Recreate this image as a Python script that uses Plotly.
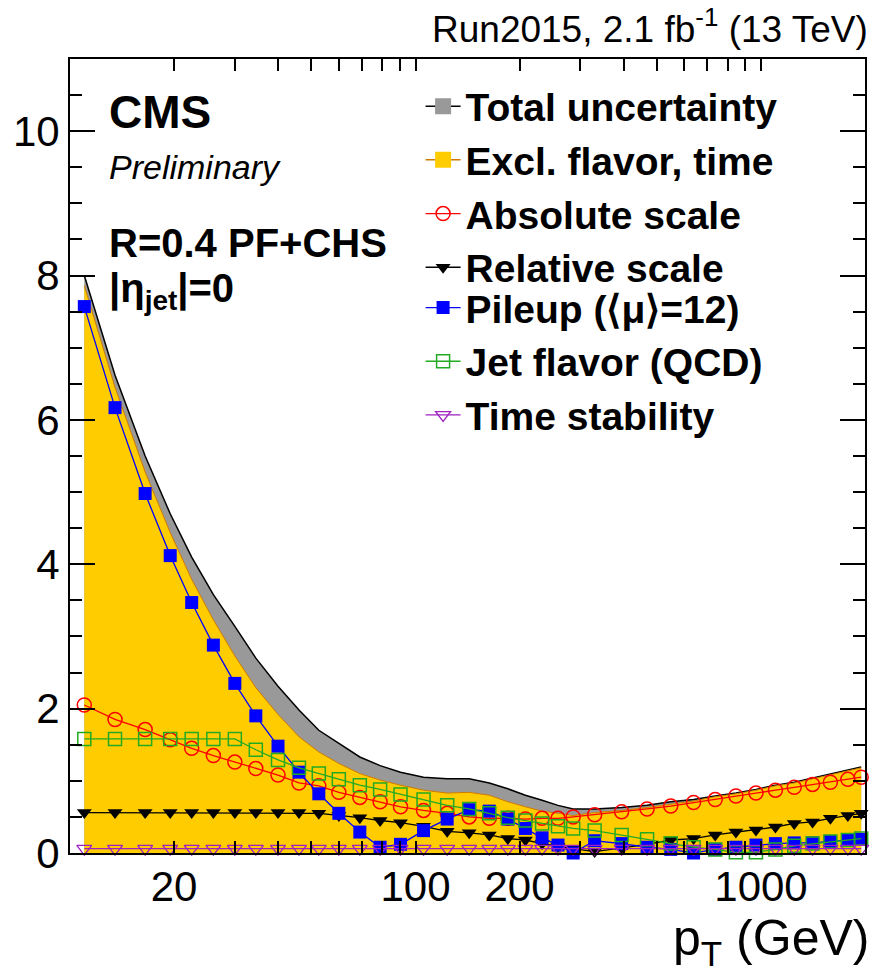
import math
import plotly.graph_objects as go

# ---------------- data ----------------
pt = [11, 13.5, 16.5, 19.5, 22.5, 26, 30, 34.5, 40, 46, 52.5, 60, 69, 79, 90.5,
      105.5, 123.5, 143, 163.5, 185, 208, 232.5, 258.5, 286, 330, 395, 468, 548,
      638, 737, 846, 967, 1101, 1248, 1410, 1588, 1784, 1950]

total_unc = [8.00, 6.62, 5.50, 4.70, 4.10, 3.58, 3.14, 2.70, 2.31, 1.98, 1.70, 1.52,
             1.33, 1.21, 1.12, 1.05, 1.03, 1.03, 0.97, 0.89, 0.80, 0.73, 0.66, 0.61,
             0.61, 0.63, 0.66, 0.71, 0.74, 0.79, 0.83, 0.88, 0.94, 0.98, 1.04, 1.09,
             1.15, 1.19]

excl_flavor_time = [7.86, 6.45, 5.28, 4.44, 3.79, 3.23, 2.73, 2.29, 1.92, 1.61, 1.40,
                    1.24, 1.10, 1.01, 0.94, 0.87, 0.83, 0.84, 0.80, 0.71, 0.64, 0.58,
                    0.55, 0.52, 0.56, 0.59, 0.63, 0.68, 0.72, 0.78, 0.82, 0.87, 0.93,
                    0.97, 1.03, 1.08, 1.14, 1.18]

absolute_scale = [2.05, 1.85, 1.71, 1.57, 1.45, 1.35, 1.26, 1.17, 1.08, 0.97, 0.93,
                  0.84, 0.77, 0.71, 0.64, 0.59, 0.55, 0.50, 0.48, 0.48, 0.47, 0.48,
                  0.48, 0.50, 0.53, 0.57, 0.61, 0.65, 0.70, 0.74, 0.79, 0.83, 0.87,
                  0.91, 0.95, 0.98, 1.02, 1.05]

relative_scale = [0.56, 0.56, 0.56, 0.56, 0.56, 0.56, 0.56, 0.56, 0.56, 0.56, 0.55,
                  0.52, 0.49, 0.45, 0.42, 0.37, 0.30, 0.28, 0.25, 0.20, 0.18, 0.13,
                  0.09, 0.06, 0.02, 0.07, 0.12, 0.18, 0.20, 0.25, 0.29, 0.32, 0.36,
                  0.41, 0.43, 0.48, 0.52, 0.55]

pileup = [7.57, 6.17, 4.98, 4.12, 3.47, 2.88, 2.35, 1.90, 1.48, 1.12, 0.82, 0.55,
          0.29, 0.08, 0.12, 0.31, 0.47, 0.60, 0.58, 0.47, 0.34, 0.21, 0.11, 0.00,
          0.17, 0.13, 0.08, 0.05, 0.00, 0.05, 0.08, 0.11, 0.13, 0.14, 0.14, 0.16,
          0.18, 0.19]

jet_flavor = [1.58, 1.58, 1.58, 1.58, 1.58, 1.58, 1.58, 1.43, 1.29, 1.18, 1.10, 1.02,
              0.94, 0.88, 0.81, 0.74, 0.66, 0.61, 0.55, 0.49, 0.45, 0.41, 0.37, 0.34,
              0.31, 0.25, 0.19, 0.13, 0.08, 0.05, 0.01, 0.01, 0.05, 0.10, 0.13, 0.16,
              0.18, 0.20]

time_stability = [0.06, 0.06, 0.06, 0.06, 0.06, 0.06, 0.06, 0.06, 0.06, 0.06, 0.06,
                  0.06, 0.06, 0.06, 0.06, 0.06, 0.06, 0.06, 0.06, 0.06, 0.06, 0.06,
                  0.06, 0.06, 0.06, 0.06, 0.06, 0.06, 0.06, 0.06, 0.06, 0.06, 0.06,
                  0.06, 0.06, 0.06, 0.06, 0.06]

x_label_ticks = [20, 100, 200, 1000]
x_long_ticks = [100, 1000]
x_minor_ticks = [30, 40, 50, 60, 70, 80, 90, 300, 400, 500, 600, 700, 800, 900, 2000]
y_label_ticks = [0, 2, 4, 6, 8, 10]

# ---------------- styles ----------------
FONT = "Liberation Sans"
GRAY = "#999999"
YELLOW = "#FFCC00"
ORANGE = "#D07A00"
RED = "#FF0000"
BLUE = "#0000FF"
GREEN = "#22AA22"
PURPLE = "#A020C0"

x_range = [math.log10(10), math.log10(2000)]

fig = go.Figure()

# bands
fig.add_trace(go.Scatter(x=pt, y=total_unc, mode="lines", fill="tozeroy",
                         fillcolor=GRAY, line=dict(color="black", width=1.5),
                         showlegend=False, hoverinfo="skip"))
fig.add_trace(go.Scatter(x=pt, y=excl_flavor_time, mode="lines", fill="tozeroy",
                         fillcolor=YELLOW, line=dict(color=ORANGE, width=1),
                         showlegend=False, hoverinfo="skip"))

# legend keys for the bands
fig.add_trace(go.Scatter(x=[None], y=[None], mode="lines+markers",
                         name="Total uncertainty", legend="legend",
                         marker=dict(symbol="square", size=16, color=GRAY),
                         line=dict(color="black", width=1.5)))
fig.add_trace(go.Scatter(x=[None], y=[None], mode="lines+markers",
                         name="Excl. flavor, time", legend="legend",
                         marker=dict(symbol="square", size=16, color=YELLOW),
                         line=dict(color=ORANGE, width=1.5)))

# components
fig.add_trace(go.Scatter(x=pt, y=absolute_scale, mode="lines+markers",
                         name="Absolute scale", legend="legend", cliponaxis=False,
                         line=dict(color=RED, width=1.3),
                         marker=dict(symbol="circle-open", size=14, color=RED,
                                     line=dict(width=1.5, color=RED))))
fig.add_trace(go.Scatter(x=pt, y=relative_scale, mode="lines+markers",
                         name="Relative scale", legend="legend", cliponaxis=False,
                         line=dict(color="black", width=1.3),
                         marker=dict(symbol="triangle-down", size=13, color="black")))
fig.add_trace(go.Scatter(x=pt, y=pileup, mode="lines+markers",
                         name="Pileup (⟨μ⟩=12)", legend="legend2", cliponaxis=False,
                         line=dict(color=BLUE, width=1.3),
                         marker=dict(symbol="square", size=13, color=BLUE)))
fig.add_trace(go.Scatter(x=pt, y=jet_flavor, mode="lines+markers",
                         name="Jet flavor (QCD)", legend="legend2", cliponaxis=False,
                         line=dict(color=GREEN, width=1.3),
                         marker=dict(symbol="square-open", size=13, color=GREEN,
                                     line=dict(width=1.5, color=GREEN))))
fig.add_trace(go.Scatter(x=pt, y=time_stability, mode="lines+markers",
                         name="Time stability", legend="legend2", cliponaxis=False,
                         line=dict(color=PURPLE, width=1.3),
                         marker=dict(symbol="triangle-down-open", size=13, color=PURPLE,
                                     line=dict(width=1.3, color=PURPLE))))

tick_common = dict(ticks="inside", tickcolor="black", tickwidth=1.5,
                   showgrid=False, zeroline=False)
legend_common = dict(xanchor="left", yanchor="top", bgcolor="rgba(0,0,0,0)",
                     borderwidth=0, itemwidth=35, tracegroupgap=0,
                     itemsizing="trace",
                     font=dict(size=39, family=FONT, color="black", weight="bold"))

fig.update_layout(
    width=873, height=980,
    margin=dict(l=70, r=6, t=59, b=127),
    paper_bgcolor="white", plot_bgcolor="white",
    font=dict(family=FONT, color="black"),
    showlegend=True,
    legend=dict(x=0.441, y=0.9807, **legend_common),
    legend2=dict(x=0.441, y=0.7271, **legend_common),
    xaxis=dict(type="log", range=x_range, tickmode="array",
               tickvals=x_label_ticks, ticktext=[str(v) for v in x_label_ticks],
               ticklen=12, showline=True, linecolor="black", linewidth=2,
               mirror="ticks", tickfont=dict(size=42, family=FONT),
               ticklabelstandoff=-4,
               minor=dict(tickmode="array", tickvals=x_minor_ticks, ticks="inside",
                          ticklen=12, tickwidth=1.5, tickcolor="black", showgrid=False),
               **tick_common),
    xaxis2=dict(type="log", range=x_range, overlaying="x", anchor="y", matches="x",
                tickmode="array", tickvals=x_long_ticks, ticklen=25,
                showticklabels=False, showline=False, mirror="ticks",
                **tick_common),
    yaxis=dict(range=[0, 11], tickmode="array", tickvals=y_label_ticks,
               ticklen=25, showline=True, linecolor="black", linewidth=2,
               mirror="ticks", tickfont=dict(size=42, family=FONT),
               ticklabelstandoff=0,
               minor=dict(dtick=0.5, ticks="inside", ticklen=12, tickwidth=1.5,
                          tickcolor="black", showgrid=False),
               **tick_common),
)

annotations = [
    dict(text="<b>CMS</b>", x=0.046, y=0.933, size=46),
    dict(text="<i>Preliminary</i>", x=0.046, y=0.864, size=34),
    dict(text="<b>R=0.4 PF+CHS</b>", x=0.046, y=0.7686, size=40),
    dict(text="<b>|η<sub>jet</sub>|=0</b>", x=0.046, y=0.708, size=40),
]
for a in annotations:
    fig.add_annotation(text=a["text"], x=a["x"], y=a["y"], xref="paper", yref="paper",
                       xanchor="left", yanchor="middle", showarrow=False,
                       font=dict(size=a["size"], family=FONT, color="black"))

fig.add_annotation(text="Run2015, 2.1 fb<sup>-1</sup> (13 TeV)", x=1.006, y=1.041,
                   xref="paper", yref="paper", xanchor="right", yanchor="middle",
                   showarrow=False, font=dict(size=37, family=FONT, color="black"))
fig.add_annotation(text="p<sub>T</sub> (GeV)", x=1.008, y=-0.112,
                   xref="paper", yref="paper", xanchor="right", yanchor="middle",
                   showarrow=False, font=dict(size=50, family=FONT, color="black"))

fig.write_html("out.html")
